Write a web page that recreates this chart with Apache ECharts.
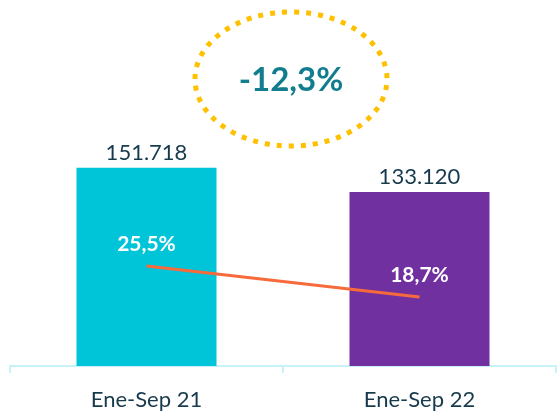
<!DOCTYPE html>
<html>
<head>
<meta charset="utf-8">
<script src="https://cdn.jsdelivr.net/npm/echarts@6/dist/echarts.min.js"></script>
<style>
  html, body { margin: 0; padding: 0; background: #fff; }
  #chart { width: 558px; height: 414px; }
</style>
</head>
<body>
<div id="chart"></div>
<script>
// chart data
var categories = ['Ene-Sep 21', 'Ene-Sep 22']
var totals = [151718, 133120]
var shares = [25.5, 18.7]
var barColors = ['#00C4D7', '#7030A0']
var changeLabel = '-12,3%'

function fmtThousands(v) {
  return String(v).replace(/\B(?=(\d{3})+(?!\d))/g, '.')
}
function fmtPct(v) {
  return v.toFixed(1).replace('.', ',') + '%'
}

var chart = echarts.init(document.getElementById('chart'))
var font = 'Lato, "Open Sans", sans-serif'
var pctOffsets = [[-2, 0], [8, 0]]

chart.setOption({
  animation: false,
  grid: {
    left: 10,
    right: 2,
    top: 0,
    bottom: 48
  },
  xAxis: {
    type: 'category',
    data: categories,
    boundaryGap: true,
    axisLine: { lineStyle: { color: '#C8F2FA', width: 2 } },
    axisTick: { show: true, length: 7, lineStyle: { color: '#C8F2FA', width: 2 } },
    axisLabel: {
      margin: 23,
      fontSize: 22,
      color: '#173A4C',
      fontFamily: font
    }
  },
  yAxis: [
    { type: 'value', min: 0, max: 280000, show: false, splitLine: { show: false } },
    { type: 'value', min: 3.5, max: 84, show: false, splitLine: { show: false } }
  ],
  series: [
    {
      type: 'bar',
      barWidth: 140,
      data: totals.map(function (v, i) {
        return { value: v, itemStyle: { color: barColors[i] } }
      }),
      label: {
        show: true,
        position: 'top',
        distance: 4,
        fontSize: 22,
        color: '#173A4C',
        fontFamily: font,
        formatter: function (p) { return fmtThousands(p.value) }
      }
    },
    {
      type: 'line',
      yAxisIndex: 1,
      data: shares.map(function (v, i) {
        return { value: v, label: { offset: pctOffsets[i] } }
      }),
      symbol: 'circle',
      symbolSize: 0,
      showSymbol: true,
      lineStyle: { color: '#F76A3C', width: 3 },
      label: {
        show: true,
        position: 'top',
        distance: 11,
        fontSize: 21,
        fontWeight: 'bold',
        color: '#fff',
        fontFamily: font,
        formatter: function (p) { return fmtPct(p.value) }
      },
      labelLayout: { hideOverlap: false }
    }
  ],
  graphic: [
    {
      type: 'ellipse',
      shape: { cx: 291, cy: 79, rx: 96, ry: 67 },
      style: {
        fill: 'none',
        stroke: '#FFC000',
        lineWidth: 5,
        lineDash: [5, 7]
      }
    },
    {
      type: 'text',
      x: 291,
      y: 80,
      style: {
        text: changeLabel,
        fill: '#117D8E',
        font: 'bold 33px ' + font,
        align: 'center',
        verticalAlign: 'middle'
      }
    }
  ]
})
</script>
</body>
</html>
